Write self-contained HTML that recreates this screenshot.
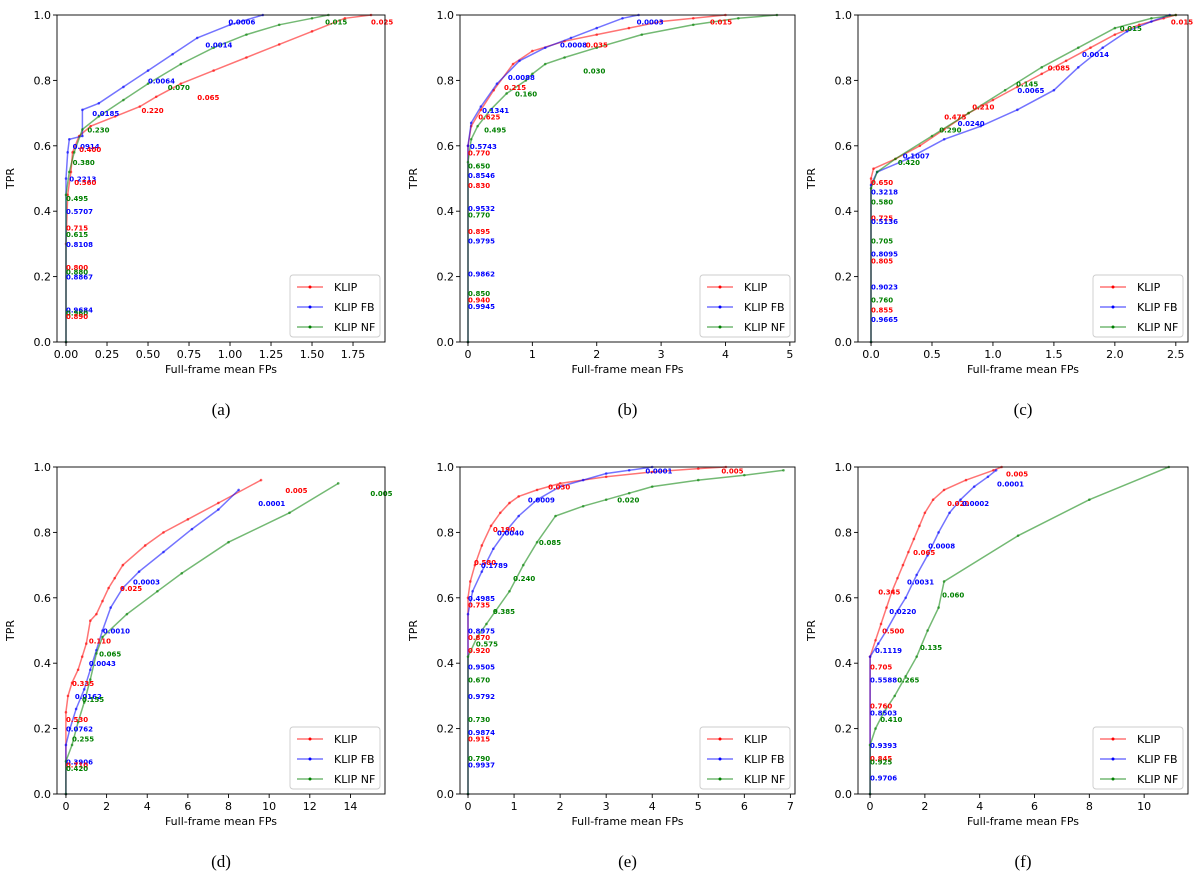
<!DOCTYPE html>
<html><head><meta charset="utf-8">
<style>
body{margin:0;background:#fff;}
svg{display:block;font-family:"DejaVu Sans","Liberation Sans",sans-serif;}
.tk{font-size:11px;fill:#000;}
.ann{font-size:7px;font-weight:bold;}
.sub{font-family:"Liberation Serif",serif;font-size:17px;}
</style></head>
<body>
<svg id="fig" width="1200" height="878" viewBox="0 0 1200 878"></svg>
<script>
// ---- Panel (a) data ----
const aKlipX=[0,0,0.01,0.03,0.04,0.08,0.15,0.3,0.45,0.55,0.7,0.9,1.1,1.3,1.5,1.7,1.86];
const aKlipY=[0,0.3,0.45,0.52,0.58,0.63,0.66,0.69,0.72,0.75,0.79,0.83,0.87,0.91,0.95,0.99,1.0];
const aFbX=[0,0,0.01,0.02,0.1,0.1,0.2,0.35,0.5,0.65,0.8,1.0,1.2];
const aFbY=[0,0.5,0.58,0.62,0.63,0.71,0.73,0.78,0.83,0.88,0.93,0.97,1.0];
const aNfX=[0,0,0.02,0.05,0.1,0.2,0.35,0.5,0.7,0.9,1.1,1.3,1.5,1.6];
const aNfY=[0,0.45,0.52,0.58,0.65,0.69,0.74,0.79,0.85,0.9,0.94,0.97,0.99,1.0];
const aLabText=["0.025","0.0006","0.015","0.0014","0.0064","0.070","0.065","0.220","0.0185","0.230","0.0914","0.400","0.380","0.2213","0.560","0.495","0.5707","0.715","0.615","0.8108","0.800","0.880","0.8867","0.9684","0.960","0.890"];
const aLabSer=["r","b","g","b","b","g","r","r","b","g","b","r","g","b","r","g","b","r","g","b","r","g","b","b","g","r"];
const aLabX=[1.86,0.99,1.58,0.85,0.5,0.62,0.8,0.46,0.16,0.13,0.04,0.08,0.04,0.02,0.05,0,0,0,0,0,0,0,0,0,0,0];
const aLabY=[0.98,0.98,0.98,0.91,0.8,0.78,0.75,0.71,0.7,0.65,0.6,0.59,0.55,0.5,0.49,0.44,0.4,0.35,0.33,0.30,0.23,0.215,0.2,0.1,0.09,0.08];
// ---- Panel (b) ----
const bKlipX=[0,0,0.05,0.2,0.4,0.7,1.0,1.5,2.0,2.5,3.0,3.5,4.0];
const bKlipY=[0,0.6,0.66,0.71,0.77,0.85,0.89,0.92,0.94,0.96,0.98,0.99,1.0];
const bFbX=[0,0,0.05,0.2,0.45,0.8,1.2,1.6,2.0,2.4,2.65];
const bFbY=[0,0.6,0.67,0.72,0.79,0.86,0.9,0.93,0.96,0.99,1.0];
const bNfX=[0,0,0.05,0.15,0.35,0.6,0.9,1.0,1.2,1.5,2.0,2.7,3.5,4.2,4.8];
const bNfY=[0,0.55,0.62,0.66,0.71,0.76,0.8,0.82,0.85,0.87,0.9,0.94,0.97,0.99,1.0];
const bLabText=["0.0003","0.015","0.0008","0.035","0.030","0.0088","0.215","0.160","0.1341","0.625","0.495","0.5743","0.770","0.650","0.8546","0.830","0.9532","0.770","0.895","0.9795","0.9862","0.850","0.940","0.9945"];
const bLabSer=["b","r","b","r","g","b","r","g","b","r","g","b","r","g","b","r","b","g","r","b","b","g","r","b"];
const bLabX=[2.62,3.76,1.43,1.83,1.79,0.62,0.56,0.73,0.22,0.16,0.25,0.03,0,0,0,0,0,0,0,0,0,0,0,0];
const bLabY=[0.98,0.98,0.91,0.91,0.83,0.81,0.78,0.76,0.71,0.69,0.65,0.6,0.58,0.54,0.51,0.48,0.41,0.39,0.34,0.31,0.21,0.15,0.13,0.11];
// ---- Panel (c) ----
const cKlipX=[0,0,0.02,0.2,0.4,0.6,0.8,1.0,1.2,1.4,1.6,1.8,2.0,2.2,2.4,2.5];
const cKlipY=[0,0.5,0.53,0.56,0.6,0.65,0.7,0.74,0.78,0.82,0.86,0.9,0.94,0.97,0.99,1.0];
const cFbX=[0,0,0.05,0.3,0.6,0.9,1.2,1.5,1.7,1.9,2.1,2.3,2.45];
const cFbY=[0,0.48,0.52,0.56,0.62,0.66,0.71,0.77,0.84,0.9,0.95,0.98,1.0];
const cNfX=[0,0,0.05,0.2,0.5,0.8,1.1,1.4,1.7,2.0,2.3,2.5];
const cNfY=[0,0.47,0.52,0.56,0.63,0.7,0.77,0.84,0.9,0.96,0.99,1.0];
const cLabText=["0.015","0.015","0.0014","0.085","0.145","0.0065","0.210","0.475","0.290","0.0240","0.1007","0.420","0.650","0.3218","0.580","0.725","0.5136","0.705","0.8095","0.805","0.9023","0.760","0.855","0.9665"];
const cLabSer=["r","g","b","r","g","b","r","r","g","b","b","g","r","b","g","r","b","g","b","r","b","g","r","b"];
const cLabX=[2.46,2.04,1.73,1.45,1.19,1.2,0.83,0.6,0.56,0.71,0.26,0.22,0,0,0,0,0,0,0,0,0,0,0,0];
const cLabY=[0.98,0.96,0.88,0.84,0.79,0.77,0.72,0.69,0.65,0.67,0.57,0.55,0.49,0.46,0.43,0.38,0.37,0.31,0.27,0.25,0.17,0.13,0.1,0.07];
// ---- Panel (d) ----
const dKlipX=[0,0,0.1,0.3,0.6,0.8,1.0,1.2,1.5,1.8,2.1,2.4,2.8,3.9,4.8,6,7.5,9.6];
const dKlipY=[0,0.25,0.3,0.34,0.38,0.42,0.46,0.53,0.55,0.59,0.63,0.66,0.7,0.76,0.8,0.84,0.89,0.96];
const dFbX=[0,0,0.2,0.5,0.9,1.2,1.5,1.8,2.2,2.8,3.6,4.8,6.2,7.5,8.5];
const dFbY=[0,0.15,0.2,0.26,0.32,0.38,0.44,0.5,0.57,0.63,0.68,0.74,0.81,0.87,0.93];
const dNfX=[0,0,0.3,0.6,0.9,1.2,1.5,1.8,3.0,4.5,5.7,8,11,13.4];
const dNfY=[0,0.1,0.15,0.22,0.28,0.35,0.43,0.48,0.55,0.62,0.675,0.77,0.86,0.95];
const dLabText=["0.005","0.0001","0.005","0.0003","0.025","0.0010","0.110","0.0043","0.065","0.335","0.0162","0.155","0.530","0.0762","0.255","0.3906","0.710","0.420"];
const dLabSer=["r","b","g","b","r","b","r","b","g","r","b","g","r","b","g","b","r","g"];
const dLabX=[10.8,9.46,14.98,3.3,2.66,1.82,1.13,1.13,1.63,0.3,0.44,0.79,0,0,0.3,0,0,0];
const dLabY=[0.93,0.89,0.92,0.65,0.63,0.5,0.47,0.4,0.43,0.34,0.3,0.29,0.23,0.2,0.17,0.1,0.09,0.08];
// ---- Panel (e) ----
const eKlipX=[0,0,0.05,0.15,0.3,0.5,0.7,0.9,1.1,1.5,2,3,4,5,5.6];
const eKlipY=[0,0.6,0.65,0.7,0.76,0.82,0.86,0.89,0.91,0.93,0.95,0.97,0.985,0.995,1.0];
const eFbX=[0,0,0.1,0.3,0.55,0.8,1.1,1.5,2,2.5,3,3.5,4];
const eFbY=[0,0.55,0.62,0.68,0.75,0.8,0.85,0.9,0.94,0.96,0.98,0.99,1.0];
const eNfX=[0,0,0.2,0.4,0.6,0.9,1.2,1.5,1.9,2.5,3,3.5,4,5,6,6.85];
const eNfY=[0,0.42,0.48,0.52,0.56,0.62,0.7,0.77,0.85,0.88,0.9,0.92,0.94,0.96,0.975,0.99];
const eLabText=["0.0001","0.005","0.030","0.0009","0.020","0.190","0.0040","0.085","0.580","0.1789","0.240","0.4985","0.735","0.385","0.8975","0.870","0.920","0.575","0.9505","0.670","0.9792","0.730","0.9874","0.915","0.790","0.9937"];
const eLabSer=["b","r","r","b","g","r","b","g","r","b","g","b","r","g","b","r","r","g","b","g","b","g","b","r","g","b"];
const eLabX=[3.85,5.5,1.74,1.3,3.24,0.54,0.63,1.54,0.13,0.28,0.98,0,0,0.54,0,0,0,0.17,0,0,0,0,0,0,0,0];
const eLabY=[0.99,0.99,0.94,0.9,0.9,0.81,0.8,0.77,0.71,0.70,0.66,0.6,0.58,0.56,0.5,0.48,0.44,0.46,0.39,0.35,0.3,0.23,0.19,0.17,0.11,0.09];
// ---- Panel (f) ----
const fKlipX=[0,0,0.2,0.4,0.6,0.8,1.0,1.2,1.4,1.6,1.8,2.0,2.3,2.7,3.5,4.5,4.8];
const fKlipY=[0,0.42,0.47,0.52,0.57,0.62,0.66,0.7,0.74,0.78,0.82,0.86,0.9,0.93,0.96,0.99,1.0];
const fFbX=[0,0,0.3,0.6,1.0,1.3,1.7,2.1,2.5,2.9,3.3,3.8,4.3,4.6];
const fFbY=[0,0.42,0.46,0.5,0.56,0.6,0.67,0.73,0.8,0.86,0.9,0.94,0.97,0.99];
const fNfX=[0,0,0.2,0.5,0.9,1.3,1.7,2.1,2.5,2.7,5.4,8,10.9];
const fNfY=[0,0.15,0.2,0.25,0.3,0.36,0.42,0.5,0.57,0.65,0.79,0.9,1.0];
const fLabText=["0.005","0.0001","0.020","0.0002","0.0008","0.065","0.060","0.0031","0.345","0.0220","0.500","0.135","0.1119","0.705","0.265","0.5588","0.410","0.760","0.8503","0.9393","0.845","0.925","0.9706"];
const fLabSer=["r","b","r","b","b","r","g","b","r","b","r","g","b","r","g","b","g","r","b","b","r","g","b"];
const fLabX=[4.96,4.63,2.81,3.36,2.12,1.57,2.63,1.35,0.3,0.7,0.44,1.82,0.18,0,0.99,0,0.37,0,0,0,0,0,0];
const fLabY=[0.98,0.95,0.89,0.89,0.76,0.74,0.61,0.65,0.62,0.56,0.5,0.45,0.44,0.39,0.35,0.35,0.23,0.27,0.25,0.15,0.11,0.1,0.05];

const xTicksA=[0,0.25,0.5,0.75,1.0,1.25,1.5,1.75], xTickLabA=["0.00","0.25","0.50","0.75","1.00","1.25","1.50","1.75"];
const xTicksB=[0,1,2,3,4,5], xTickLabB=["0","1","2","3","4","5"];
const xTicksC=[0,0.5,1,1.5,2,2.5], xTickLabC=["0.0","0.5","1.0","1.5","2.0","2.5"];
const xTicksD=[0,2,4,6,8,10,12,14], xTickLabD=["0","2","4","6","8","10","12","14"];
const xTicksE=[0,1,2,3,4,5,6,7], xTickLabE=["0","1","2","3","4","5","6","7"];
const xTicksF=[0,2,4,6,8,10], xTickLabF=["0","2","4","6","8","10"];
const yTicks=[0,0.2,0.4,0.6,0.8,1.0], yTickLab=["0.0","0.2","0.4","0.6","0.8","1.0"];

const NS="http://www.w3.org/2000/svg";
const svg=document.getElementById('fig');
const COL={r:"#ff0000",b:"#0000ff",g:"#008000"};
function mk(tag,attrs,parent){const e=document.createElementNS(NS,tag);for(const k in attrs)e.setAttribute(k,attrs[k]);(parent||svg).appendChild(e);return e;}

const panels=[
 {id:"a",L:57,R:385,T:15,B:342,xmin:-0.055,xmax:1.945,xt:xTicksA,xl:xTickLabA,s:[[aKlipX,aKlipY],[aFbX,aFbY],[aNfX,aNfY]],lt:aLabText,ls:aLabSer,lx:aLabX,ly:aLabY},
 {id:"b",L:460,R:795,T:15,B:342,xmin:-0.124,xmax:5.08,xt:xTicksB,xl:xTickLabB,s:[[bKlipX,bKlipY],[bFbX,bFbY],[bNfX,bNfY]],lt:bLabText,ls:bLabSer,lx:bLabX,ly:bLabY},
 {id:"c",L:858,R:1188,T:15,B:342,xmin:-0.107,xmax:2.6,xt:xTicksC,xl:xTickLabC,s:[[cKlipX,cKlipY],[cFbX,cFbY],[cNfX,cNfY]],lt:cLabText,ls:cLabSer,lx:cLabX,ly:cLabY},
 {id:"d",L:57,R:385,T:467,B:794,xmin:-0.44,xmax:15.7,xt:xTicksD,xl:xTickLabD,s:[[dKlipX,dKlipY],[dFbX,dFbY],[dNfX,dNfY]],lt:dLabText,ls:dLabSer,lx:dLabX,ly:dLabY},
 {id:"e",L:460,R:795,T:467,B:794,xmin:-0.174,xmax:7.1,xt:xTicksE,xl:xTickLabE,s:[[eKlipX,eKlipY],[eFbX,eFbY],[eNfX,eNfY]],lt:eLabText,ls:eLabSer,lx:eLabX,ly:eLabY},
 {id:"f",L:858,R:1188,T:467,B:794,xmin:-0.44,xmax:11.6,xt:xTicksF,xl:xTickLabF,s:[[fKlipX,fKlipY],[fFbX,fFbY],[fNfX,fNfY]],lt:fLabText,ls:fLabSer,lx:fLabX,ly:fLabY}
];
const serKeys=["r","b","g"], serNames=["KLIP","KLIP FB","KLIP NF"], serSlug=["klip","klip-fb","klip-nf"];

panels.forEach(p=>{
 const g=mk('g',{});
 
 
 const X=v=>p.L+(v-p.xmin)/(p.xmax-p.xmin)*(p.R-p.L);
 const Y=v=>p.B-v*(p.B-p.T);
 // series
 p.s.forEach((s,i)=>{
  const pts=s[0].map((x,j)=>X(x).toFixed(1)+","+Y(s[1][j]).toFixed(1)).join(" ");
  const pl=mk('polyline',{points:pts,fill:"none",stroke:COL[serKeys[i]],"stroke-width":1.5,"stroke-opacity":0.55},g);
  
  
  s[0].forEach((x,j)=>{
   const c=mk('circle',{cx:X(x),cy:Y(s[1][j]),r:1.3,fill:COL[serKeys[i]],"fill-opacity":0.6},g);
   
   
  });
 });
 // annotations
 p.lt.forEach((t,i)=>{
  const tx=mk('text',{x:X(p.lx[i]),y:Y(p.ly[i])+3,class:"ann",fill:COL[p.ls[i]]},g);
  tx.textContent=t;
  
  
 });
 // frame
 const fr=mk('rect',{x:p.L,y:p.T,width:p.R-p.L,height:p.B-p.T,fill:"none",stroke:"#000","stroke-width":0.9},g);
 
 
 // x ticks
 p.xt.forEach((v,i)=>{
  const x=X(v);
  mk('line',{x1:x,x2:x,y1:p.B,y2:p.B+4,stroke:"#000","stroke-width":0.9},g);
  const t=mk('text',{x:x,y:p.B+16,"text-anchor":"middle",class:"tk"},g);
  t.textContent=p.xl[i];
  
  
 });
 yTicks.forEach((v,i)=>{
  const y=Y(v);
  mk('line',{x1:p.L-4,x2:p.L,y1:y,y2:y,stroke:"#000","stroke-width":0.9},g);
  const t=mk('text',{x:p.L-6,y:y+4,"text-anchor":"end",class:"tk"},g);
  t.textContent=yTickLab[i];
  
  
 });
 const xt=mk('text',{x:(p.L+p.R)/2,y:p.B+31,"text-anchor":"middle",class:"tk"},g);
 xt.textContent="Full-frame mean FPs";
 
 
 const cy=(p.T+p.B)/2;
 const yt=mk('text',{x:p.L-43,y:cy,"text-anchor":"middle",class:"tk",transform:"rotate(-90 "+(p.L-43)+" "+cy+")"},g);
 yt.textContent="TPR";
 
 
 const sb=mk('text',{x:(p.L+p.R)/2,y:p.B+73,"text-anchor":"middle",class:"sub"},g);
 sb.textContent="("+p.id+")";
 
 
 // legend
 const lg=mk('g',{},g);
 
 
 const lx=p.R-95, ly=p.B-67;
 mk('rect',{x:lx,y:ly,width:90,height:62,rx:3,fill:"#fff","fill-opacity":0.85,stroke:"#ccc","stroke-width":0.9},lg);
 serNames.forEach((n,i)=>{
  const yy=ly+12+i*20;
  mk('line',{x1:lx+7,x2:lx+33,y1:yy,y2:yy,stroke:COL[serKeys[i]],"stroke-width":1.5,"stroke-opacity":0.55},lg);
  mk('circle',{cx:lx+20,cy:yy,r:1.5,fill:COL[serKeys[i]]},lg);
  const t=mk('text',{x:lx+44,y:yy+4,class:"tk"},lg);
  t.textContent=n;
  
  
 });
});
</script>
</body></html>
